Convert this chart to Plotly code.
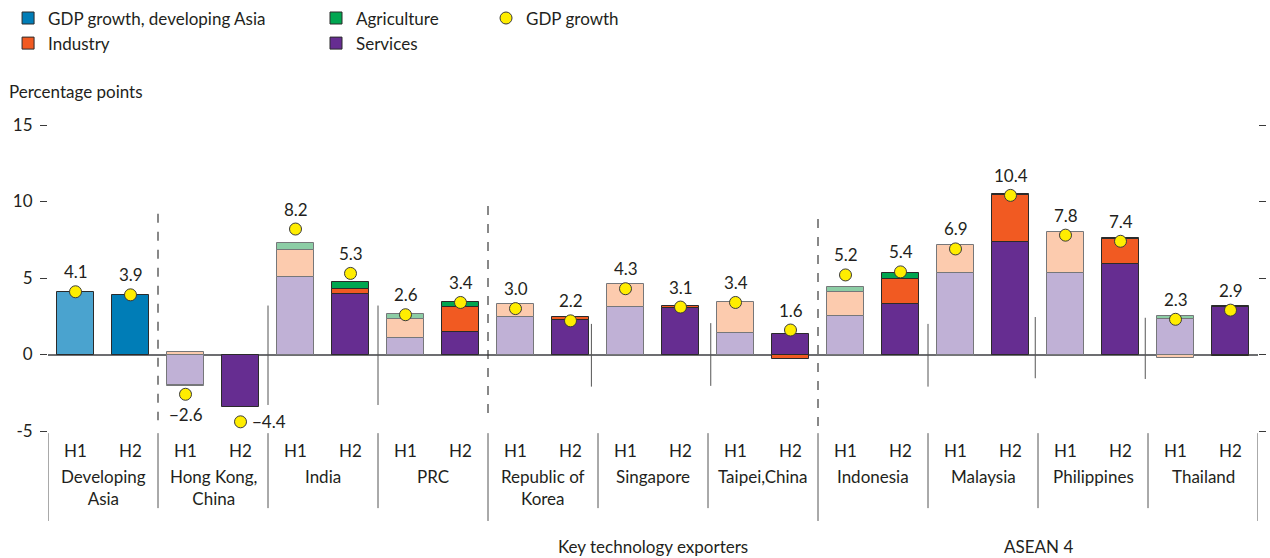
import plotly.graph_objects as go

# ---------------- data ----------------
economies = ["Developing<br>Asia", "Hong Kong,<br>China", "India", "PRC", "Republic of<br>Korea",
             "Singapore", "Taipei,China", "Indonesia", "Malaysia", "Philippines", "Thailand"]
half_labels = ["H1", "H2"]

gdp_h1 = [4.1, -2.6, 8.2, 2.6, 3.0, 4.3, 3.4, 5.2, 6.9, 7.8, 2.3]
gdp_h2 = [3.9, -4.4, 5.3, 3.4, 2.2, 3.1, 1.6, 5.4, 10.4, 7.4, 2.9]

devasia_h1 = [4.1]
devasia_h2 = [3.9]

services_h1 = [None, -2.0, 5.05, 1.05, 2.43, 3.12, 1.42, 2.51, 5.31, 5.35, 2.30]
services_h2 = [None, -3.45, 3.95, 1.44, 2.25, 3.06, 1.33, 3.28, 7.36, 5.92, 3.12]
industry_h1 = [None, 0.17, 1.75, 1.30, 0.85, 1.50, 2.00, 1.60, 1.84, 2.65, -0.26]
industry_h2 = [None, None, 0.30, 1.64, 0.18, 0.13, -0.29, 1.66, 3.08, 1.62, -0.08]
agri_h1 = [None, -0.03, 0.50, 0.28, None, None, None, 0.27, -0.10, None, 0.23]
agri_h2 = [None, None, 0.50, 0.37, None, None, None, 0.39, 0.07, 0.08, 0.08]

group_names = ["Key technology exporters", "ASEAN 4"]
group_spans = [(4, 6), (7, 10)]  # economy index ranges

# ---------------- styling ----------------
FONT = "Lato"
FS = 17
TXT = "#231F20"
C = dict(
    purple_l="#C0B1D6", purple="#662D91",
    orange_l="#FCCBAE", orange="#F15A22",
    green_l="#8CCDA5", green="#00A651",
    blue_l="#4AA3CF", blue="#007DB7",
    yellow="#FFED00",
)
LINE_L = dict(color="#76777A", width=1)
LINE_D = dict(color="#2B2B2B", width=1)
BARW = 0.67

n = len(economies)
x_h1 = [2 * i for i in range(n)]
x_h2 = [2 * i + 1 for i in range(n)]

fig = go.Figure()

def bar(x, y, color, line, name, show, legend="legend", rank=1000):
    fig.add_trace(go.Bar(x=x, y=y, name=name, width=BARW, marker=dict(color=color, line=line),
                         showlegend=show, legend=legend, legendrank=rank, hoverinfo="skip"))

# stacking order: services, industry, agriculture
bar(x_h1, services_h1, C["purple_l"], LINE_L, "Services", False, "legend2")
bar(x_h2, services_h2, C["purple"], LINE_D, "Services", True, "legend2", 2)
bar(x_h1, industry_h1, C["orange_l"], LINE_L, "Industry", False, "legend")
bar(x_h2, industry_h2, C["orange"], LINE_D, "Industry", True, "legend", 2)
bar(x_h1, agri_h1, C["green_l"], LINE_L, "Agriculture", False, "legend2")
bar(x_h2, agri_h2, C["green"], LINE_D, "Agriculture", True, "legend2", 1)
bar([0], devasia_h1, C["blue_l"], LINE_D, "GDP growth, developing Asia", False, "legend")
bar([1], devasia_h2, C["blue"], LINE_D, "GDP growth, developing Asia", True, "legend", 1)

# GDP growth dots
gx, gy = [], []
for i in range(n):
    gx += [x_h1[i], x_h2[i]]
    gy += [gdp_h1[i], gdp_h2[i]]
fig.add_trace(go.Scatter(x=gx, y=gy, mode="markers", name="GDP growth", legend="legend3",
                         marker=dict(color=C["yellow"], size=12, line=dict(color="#3A3A3A", width=1)),
                         cliponaxis=False, hoverinfo="skip"))

# value labels
ann = []
for k, (xv, v) in enumerate(zip(gx, gy)):
    txt = f"{v:.1f}".replace("-", "\u2212")
    if k == 3:  # Hong Kong, China H2: label to the right of the dot
        ann.append(dict(x=xv, y=v, xref="x", yref="y", text=txt, showarrow=False,
                        xanchor="left", yanchor="middle", xshift=9,
                        font=dict(family=FONT, size=FS, color=TXT)))
    else:
        ann.append(dict(x=xv, y=v, xref="x", yref="y", text=txt, showarrow=False,
                        xanchor="center", yanchor="middle", yshift=20 if v >= 0 else -20,
                        font=dict(family=FONT, size=FS, color=TXT)))

# ---------------- separators ----------------
shapes = []
dashed = [(1.5, 9.2, -4.3), (7.5, 9.7, -3.85), (13.5, 8.85, -4.8)]
solid = [(3.5, 3.2, -3.3), (5.5, 3.2, -3.3), (9.38, 2.0, -2.1), (11.55, 2.05, -2.05),
         (15.5, 2.0, -2.1), (17.45, 2.45, -1.55), (19.45, 2.4, -1.6)]
for xb, y0, y1 in dashed:
    shapes.append(dict(type="line", xref="x", yref="y", x0=xb, x1=xb, y0=y0, y1=y1,
                       line=dict(color="#3A3A3A", width=1.2, dash="dash")))
for xb, y0, y1 in solid:
    shapes.append(dict(type="line", xref="x", yref="y", x0=xb, x1=xb, y0=y0, y1=y1,
                       line=dict(color="#555555", width=1)))
long_b = [-0.5, 7.5, 13.5, 21.5]
short_b = [1.5, 3.5, 5.5, 9.5, 11.5, 15.5, 17.5, 19.5]
for xb in long_b:
    shapes.append(dict(type="line", xref="x", yref="paper", x0=xb, x1=xb, y0=-0.007, y1=-0.294,
                       line=dict(color="#555555", width=1)))
for xb in short_b:
    shapes.append(dict(type="line", xref="x", yref="paper", x0=xb, x1=xb, y0=-0.007, y1=-0.252,
                       line=dict(color="#555555", width=1)))

# ---------------- annotations ----------------
for i, name in enumerate(economies):
    ann.append(dict(x=2 * i + 0.5, y=-0.108, xref="x", yref="paper", text=name, showarrow=False,
                    xanchor="center", yanchor="top", font=dict(family=FONT, size=FS, color=TXT)))
for gname, (a, b) in zip(group_names, group_spans):
    ann.append(dict(x=(2 * a + 2 * b + 1) / 2, y=-0.379, xref="x", yref="paper", text=gname,
                    showarrow=False, xanchor="center", yanchor="middle",
                    font=dict(family=FONT, size=FS, color=TXT)))
ann.append(dict(x=-0.034, y=1.111, xref="paper", yref="paper", text="Percentage points",
                showarrow=False, xanchor="left", yanchor="middle",
                font=dict(family=FONT, size=FS, color=TXT)))

leg_common = dict(orientation="v", yanchor="top", xanchor="left", y=1.407,
                  font=dict(family=FONT, size=FS, color=TXT), bgcolor="rgba(0,0,0,0)",
                  tracegroupgap=0, itemwidth=30, traceorder="normal")

fig.update_layout(
    width=1270, height=558,
    margin=dict(l=48, r=12, t=125, b=127, autoexpand=False),
    paper_bgcolor="white", plot_bgcolor="white",
    barmode="relative", bargap=0,
    font=dict(family=FONT, size=FS, color=TXT),
    shapes=shapes, annotations=ann,
    legend=dict(x=-0.033, **leg_common),
    legend2=dict(x=0.2215, **leg_common),
    legend3=dict(x=0.362, **leg_common),
    xaxis=dict(range=[-0.5, 21.5], tickmode="array", tickvals=list(range(2 * n)),
               ticktext=half_labels * n, showgrid=False, zeroline=False, showline=False,
               ticks="", ticklabelstandoff=8, tickfont=dict(family=FONT, size=FS, color=TXT)),
    yaxis=dict(range=[-5, 15], tickmode="array", tickvals=[-5, 0, 5, 10, 15],
               ticktext=["-5", "0", "5", "10", "15"], showgrid=False,
               zeroline=True, zerolinecolor="#6D6E71", zerolinewidth=1.5,
               showline=False, ticks="outside", ticklen=7, tickcolor="#3A3A3A", tickwidth=1,
               mirror="ticks", ticklabelstandoff=4, tickfont=dict(family=FONT, size=FS, color=TXT)),
)

fig.write_html("out.html", config={"displayModeBar": False},
               post_script="document.body.style.margin='0';")
